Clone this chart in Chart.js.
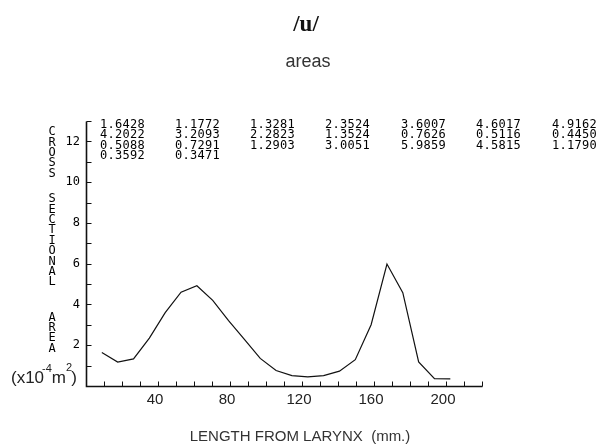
<!DOCTYPE html>
<html>
<head>
<meta charset="utf-8">
<script src="https://cdn.jsdelivr.net/npm/chart.js@4.4.0/dist/chart.umd.min.js"></script>
<style>
  html, body { margin: 0; padding: 0; background: #fff; }
</style>
</head>
<body>
<canvas id="areaChart" width="603" height="447"></canvas>
<script>
// distance from larynx (mm) of each section
const lengths = [8.8, 17.6, 26.4, 35.2, 44, 52.8, 61.6, 70.4, 79.2, 88, 96.8, 105.6,
                 114.4, 123.2, 132, 140.8, 149.6, 158.4, 167.2, 176, 184.8, 193.6, 202.4];
// cross sectional areas (x10^-4 m^2), as printed on the chart
const areas = [1.6428, 1.1772, 1.3281, 2.3524, 3.6007, 4.6017, 4.9162,
               4.2022, 3.2093, 2.2823, 1.3524, 0.7626, 0.5116, 0.4450,
               0.5088, 0.7291, 1.2903, 3.0051, 5.9859, 4.5815, 1.1790,
               0.3592, 0.3471];
const xTickLabels = [40, 80, 120, 160, 200];
const xTickMarks = [10, 20, 30, 40, 50, 60, 70, 80, 90, 100, 110, 120, 130, 140, 150, 160, 170, 180, 190, 200, 210, 220];
const yTickLabels = [2, 4, 6, 8, 10, 12];
const yTickMarks = [1, 2, 3, 4, 5, 6, 7, 8, 9, 10, 11, 12, 13];

const points = lengths.map((x, i) => ({ x: x, y: areas[i] }));

// axes, ticks and all the text are drawn by hand so the ticks can point inward
const decor = {
  id: 'decor',
  afterDraw(chart) {
    const ctx = chart.ctx;
    const xs = chart.scales.x, ys = chart.scales.y;
    const x0 = Math.round(xs.getPixelForValue(0)) + 0.5;
    const y0 = Math.round(ys.getPixelForValue(0)) + 0.5;
    const xEnd = Math.round(xs.getPixelForValue(220)) + 0.5;
    const yTop = Math.round(ys.getPixelForValue(13)) + 0.5;

    ctx.save();
    ctx.strokeStyle = '#111';
    ctx.lineWidth = 1.6;
    ctx.beginPath();
    ctx.moveTo(x0, yTop);
    ctx.lineTo(x0, y0);
    ctx.lineTo(xEnd, y0);
    ctx.stroke();

    ctx.lineWidth = 1;
    ctx.beginPath();
    yTickMarks.forEach(v => {
      const y = Math.round(ys.getPixelForValue(v)) + 0.5;
      ctx.moveTo(x0, y);
      ctx.lineTo(x0 + 5, y);
    });
    xTickMarks.forEach(v => {
      const x = Math.round(xs.getPixelForValue(v)) + 0.5;
      ctx.moveTo(x, y0);
      ctx.lineTo(x, y0 - 5);
    });
    ctx.stroke();

    // y tick labels
    ctx.fillStyle = '#000';
    ctx.font = '12px "DejaVu Sans Mono"';
    ctx.textAlign = 'right';
    ctx.textBaseline = 'middle';
    yTickLabels.forEach(v => ctx.fillText(String(v), 80, ys.getPixelForValue(v)));

    // x tick labels
    ctx.fillStyle = '#222';
    ctx.font = '15px "Liberation Sans"';
    ctx.textAlign = 'center';
    xTickLabels.forEach(v => ctx.fillText(String(v), xs.getPixelForValue(v) - 3, 400));

    // stacked y axis label
    ctx.fillStyle = '#000';
    ctx.font = '12px "DejaVu Sans Mono"';
    const words = [['CROSS', 132], ['SECTIONAL', 199], ['AREA', 317.5]];
    words.forEach(([w, top]) => {
      for (let i = 0; i < w.length; i++) ctx.fillText(w[i], 52, top + i * 10.4);
    });

    // unit
    ctx.fillStyle = '#222';
    ctx.textAlign = 'left';
    ctx.textBaseline = 'alphabetic';
    const big = '17px "Liberation Sans"', small = '11px "Liberation Sans"';
    let ux = 11;
    ctx.font = big; ctx.fillText('(x10', ux, 383); ux += ctx.measureText('(x10').width;
    ctx.font = small; ctx.fillText('-4', ux - 2, 372); ux += ctx.measureText('-4').width - 2;
    ctx.font = big; ctx.fillText('m', ux, 383); ux += ctx.measureText('m').width;
    ctx.font = small; ctx.fillText('2', ux, 371); ux += ctx.measureText('2').width - 1;
    ctx.font = big; ctx.fillText(')', ux, 383);

    // printed values
    ctx.fillStyle = '#000';
    ctx.font = '12px "DejaVu Sans Mono"';
    ctx.letterSpacing = '0.3px';
    ctx.textBaseline = 'middle';
    const colX = [100, 175, 250, 325, 401, 476, 552];
    areas.forEach((v, i) => {
      const row = Math.floor(i / 7), col = i % 7;
      ctx.fillText(v.toFixed(4), colX[col], 124.5 + row * 10.5);
    });
    ctx.letterSpacing = '0px';

    // titles
    ctx.textAlign = 'center';
    ctx.fillStyle = '#111';
    ctx.font = 'bold 23px "Liberation Serif"';
    ctx.fillText('/u/', 306, 25);
    ctx.fillStyle = '#333';
    ctx.font = '18px "Liberation Sans"';
    ctx.fillText('areas', 308, 62);
    ctx.font = '15px "Liberation Sans"';
    ctx.fillText('LENGTH FROM LARYNX  (mm.)', 300, 437);
    ctx.restore();
  }
};

new Chart(document.getElementById('areaChart'), {
  type: 'line',
  data: {
    datasets: [{
      data: points,
      borderColor: '#111',
      borderWidth: 1.2,
      pointRadius: 0,
      tension: 0,
      fill: false
    }]
  },
  options: {
    responsive: false,
    animation: false,
    devicePixelRatio: 1,
    layout: { padding: { left: 86, right: 121, top: 121, bottom: 61 } },
    plugins: { legend: { display: false }, tooltip: { enabled: false } },
    scales: {
      x: { type: 'linear', min: 0, max: 220, display: false },
      y: { min: 0, max: 13, display: false }
    }
  },
  plugins: [decor]
});
</script>
</body>
</html>
